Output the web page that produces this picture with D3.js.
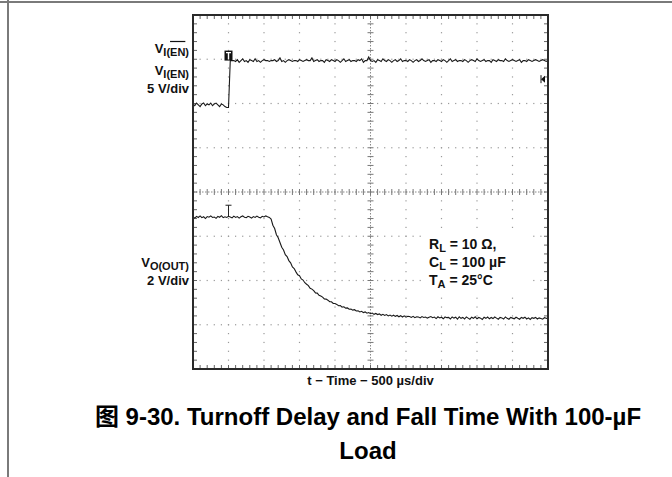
<!DOCTYPE html>
<html>
<head>
<meta charset="utf-8">
<script src="https://cdn.jsdelivr.net/npm/d3@7"></script>
<style>
  html, body { margin: 0; padding: 0; background: #fff; }
  svg { display: block; font-family: "Liberation Sans", Arial, "Noto Sans CJK SC", sans-serif; }
</style>
</head>
<body>
<svg id="chart" width="672" height="477"></svg>
<script>
// ---- Acquisition settings ----
const timeSpan = [0, 5000];        // µs across the screen (10 div × 500 µs/div)
const sampleStep = 25;             // µs between samples
const divisionsX = 10;
const divisionsY = 8;

// Channel 1: enable input, 5 V/div
const ch1VoltsPerDiv = 5;
const ch1GroundDiv = 5.97;
const ch1TriggerLevel = 2.9;
const enableVolts = [
  0.1,-0.1,0.2,0.0,-0.2,0.1,0.2,-0.1,0.1,0.0,0.2,-0.1,0.1,0.2,0.0,-0.2,0.1,0.0,-0.2,-0.3,-0.3,
  5.0,5.0,5.0,4.9,5.1,4.8,5.0,5.2,4.9,5.0,
  4.8,5.1,5.0,4.9,5.2,4.9,5.0,4.8,5.0,5.1,
  5.0,5.0,4.9,5.0,5.0,5.1,4.9,5.0,5.3,4.9,
  5.0,4.8,5.0,5.1,5.0,4.9,5.0,5.0,4.9,5.1,
  5.0,4.9,5.0,5.1,5.0,5.0,5.3,4.9,5.0,5.1,
  4.9,5.0,5.0,4.8,5.1,5.0,4.9,5.1,5.0,4.9,
  5.1,5.0,4.8,5.0,5.2,4.9,5.0,5.1,4.9,5.0,
  5.0,4.9,5.1,5.0,5.2,4.8,5.0,5.0,5.4,5.0,
  4.9,5.0,4.8,5.1,5.0,4.9,5.2,5.0,4.9,5.1,
  5.0,4.8,5.0,5.1,4.9,5.0,5.2,4.9,5.0,5.0,
  4.9,5.1,5.0,4.8,5.0,5.1,4.9,5.0,5.2,5.0,
  4.9,5.0,5.1,4.8,5.0,5.0,4.9,5.1,5.0,4.9,
  5.1,5.0,4.8,5.0,5.2,4.9,5.0,5.1,4.9,5.0,
  5.0,4.9,5.1,5.0,4.8,5.0,5.1,5.0,4.9,5.2,
  5.0,4.9,5.0,5.1,4.9,5.0,5.0,4.8,5.1,5.0,
  4.9,5.1,5.0,5.0,4.9,5.2,5.0,4.9,5.0,5.1,
  5.0,4.9,5.0,5.1,4.8,5.0,5.0,4.9,5.1,5.0,
  4.9,5.0,5.1,5.0,4.9,5.0,5.1,5.0,4.9,5.0
];

// Channel 2: output voltage, 2 V/div
const ch2VoltsPerDiv = 2;
const ch2GroundDiv = 1.15;
const outputVolts = [
  4.58,4.52,4.60,4.55,4.62,4.54,4.58,4.50,4.59,4.56,
  4.62,4.55,4.57,4.51,4.60,4.56,4.63,4.54,4.58,4.55,
  4.60,4.57,4.53,4.61,4.55,4.59,4.52,4.58,4.62,4.56,
  4.54,4.60,4.57,4.52,4.59,4.55,4.61,4.56,4.53,4.60,
  4.57,4.62,4.58,4.55,
  4.48,4.20,4.05,3.77,3.63,3.42,3.20,3.08,2.87,2.78,
  2.60,2.50,2.31,2.24,2.09,1.96,1.92,1.77,1.72,1.60,
  1.53,1.47,1.35,1.31,1.24,1.14,1.13,1.03,1.00,0.95,
  0.87,0.86,0.81,0.74,0.74,0.66,0.66,0.62,0.56,0.57,
  0.50,0.51,0.45,0.46,0.40,0.41,0.36,0.38,0.32,0.33,
  0.28,0.31,0.25,0.28,0.22,0.25,0.20,0.23,0.17,0.21,
  0.16,0.19,0.13,0.17,0.12,0.16,0.10,0.14,0.09,0.13,
  0.08,0.12,0.06,0.11,0.05,0.10,0.04,0.08,0.07,0.03,
  0.08,0.02,0.06,0.05,0.01,0.07,0.03,0.05,0.00,0.04,
  0.07,0.02,0.05,-0.02,0.06,0.01,0.04,-0.03,0.05,0.02,
  0.03,-0.04,0.05,0.00,0.04,-0.05,0.06,-0.01,0.03,-0.04,
  0.05,0.00,-0.05,0.04,-0.01,0.06,-0.03,0.03,0.00,-0.06,
  0.04,-0.01,0.05,-0.03,0.03,-0.02,0.05,0.00,-0.05,0.03,
  0.01,-0.04,0.05,-0.01,-0.05,0.03,0.00,-0.03,0.04,-0.01,
  -0.05,0.03,-0.01,0.04,-0.04,0.01,-0.06,0.02,-0.01,0.03,
  -0.04,0.01,-0.02,-0.05,0.02,-0.01,-0.04
];
const triggerTime = 500;           // µs, enable edge
const ch2MarkerVolts = 4.56;

// ---- Texts ----
const ch1Labels = [
  { main: "V", sub: "I(EN)", overline: true },
  { main: "V", sub: "I(EN)", overline: false },
  { main: "5 V/div" }
];
const ch2Labels = [
  { main: "V", sub: "O(OUT)" },
  { main: "2 V/div" }
];
const conditionLabels = [
  { main: "R", sub: "L", rest: " = 10 Ω," },
  { main: "C", sub: "L", rest: " = 100 µF" },
  { main: "T", sub: "A", rest: " = 25°C" }
];
const timeAxisLabel = "t − Time − 500 µs/div";
const captionLines = ["图 9-30. Turnoff Delay and Fall Time With 100-µF", "Load"];

// ---- Layout ----
const svg = d3.select("#chart");
const box = { left: 193, right: 548, top: 15, bottom: 369 };

const x = d3.scaleLinear().domain(timeSpan).range([box.left, box.right]);
const gridY = d3.scaleLinear().domain([0, divisionsY]).range([box.bottom, box.top]);
const gridX = d3.scaleLinear().domain([0, divisionsX]).range([box.left, box.right]);
const y1 = d3.scaleLinear()
  .domain([-ch1GroundDiv * ch1VoltsPerDiv, (divisionsY - ch1GroundDiv) * ch1VoltsPerDiv])
  .range([box.bottom, box.top]);
const y2 = d3.scaleLinear()
  .domain([-ch2GroundDiv * ch2VoltsPerDiv, (divisionsY - ch2GroundDiv) * ch2VoltsPerDiv])
  .range([box.bottom, box.top]);

// Page frame lines
svg.append("line").attr("x1", 0).attr("x2", 672).attr("y1", 2).attr("y2", 2)
  .attr("stroke", "#7a7a7a").attr("stroke-width", 2);
svg.append("line").attr("x1", 8).attr("x2", 8).attr("y1", 0).attr("y2", 477)
  .attr("stroke", "#7a7a7a").attr("stroke-width", 2);

// ---- Graticule ----
const grat = svg.append("g").attr("class", "graticule");
const minorX = d3.range(0, divisionsX + 0.001, 0.2);
const minorY = d3.range(0, divisionsY + 0.001, 0.2);
const dotColor = "#9a9a9a";

// dotted division lines
for (let i = 1; i < divisionsX; i++) {
  if (i === divisionsX / 2) continue;
  minorY.forEach(v => {
    grat.append("rect").attr("x", gridX(i) - 0.6).attr("y", gridY(v) - 0.6)
      .attr("width", 1.2).attr("height", 1.2).attr("fill", dotColor);
  });
}
for (let j = 1; j < divisionsY; j++) {
  if (j === divisionsY / 2) continue;
  minorX.forEach(v => {
    grat.append("rect").attr("x", gridX(v) - 0.6).attr("y", gridY(j) - 0.6)
      .attr("width", 1.2).attr("height", 1.2).attr("fill", dotColor);
  });
}

// centre axes with minor ticks
const cx = gridX(divisionsX / 2), cy = gridY(divisionsY / 2);
grat.append("line").attr("x1", box.left).attr("x2", box.right).attr("y1", cy).attr("y2", cy)
  .attr("stroke", "#8a8a8a").attr("stroke-width", 1).attr("stroke-dasharray", "1.5,1.5");
grat.append("line").attr("x1", cx).attr("x2", cx).attr("y1", box.top).attr("y2", box.bottom)
  .attr("stroke", "#8a8a8a").attr("stroke-width", 1).attr("stroke-dasharray", "1.5,1.5");
minorX.forEach(v => {
  grat.append("line").attr("x1", gridX(v)).attr("x2", gridX(v)).attr("y1", cy - 3).attr("y2", cy + 3)
    .attr("stroke", "#777").attr("stroke-width", 1);
});
minorY.forEach(v => {
  grat.append("line").attr("x1", cx - 3).attr("x2", cx + 3).attr("y1", gridY(v)).attr("y2", gridY(v))
    .attr("stroke", "#777").attr("stroke-width", 1);
});

// border ticks pointing inward
minorX.forEach(v => {
  grat.append("line").attr("x1", gridX(v)).attr("x2", gridX(v)).attr("y1", box.top).attr("y2", box.top + 4)
    .attr("stroke", "#666").attr("stroke-width", 1);
  grat.append("line").attr("x1", gridX(v)).attr("x2", gridX(v)).attr("y1", box.bottom - 4).attr("y2", box.bottom)
    .attr("stroke", "#666").attr("stroke-width", 1);
});
minorY.forEach(v => {
  grat.append("line").attr("x1", box.left).attr("x2", box.left + 4).attr("y1", gridY(v)).attr("y2", gridY(v))
    .attr("stroke", "#666").attr("stroke-width", 1);
  grat.append("line").attr("x1", box.right - 4).attr("x2", box.right).attr("y1", gridY(v)).attr("y2", gridY(v))
    .attr("stroke", "#666").attr("stroke-width", 1);
});

// Condition note background hides the graticule underneath
svg.append("rect").attr("x", 422).attr("y", 232).attr("width", 110).attr("height", 60).attr("fill", "#fff");

// ---- Traces ----
const tOf = (d, i) => x(i * sampleStep);
svg.append("path").datum(enableVolts)
  .attr("d", d3.line().x(tOf).y(d => y1(d)))
  .attr("fill", "none").attr("stroke", "#1a1a1a").attr("stroke-width", 1.1);
svg.append("path").datum(outputVolts)
  .attr("d", d3.line().x(tOf).y(d => y2(d)))
  .attr("fill", "none").attr("stroke", "#1a1a1a").attr("stroke-width", 1.1);

// Trigger position marker on channel 1
const tx = x(triggerTime);
const ty = y1(ch1VoltsPerDiv);
svg.append("rect").attr("x", tx - 4).attr("y", ty - 10).attr("width", 8).attr("height", 10).attr("fill", "#111");
svg.append("path").attr("d", `M${tx - 2.5},${ty - 8}H${tx + 2.5}M${tx},${ty - 8}V${ty - 1}`)
  .attr("stroke", "#fff").attr("stroke-width", 1.4).attr("fill", "none");

// Trigger position marker on channel 2
const my = y2(ch2MarkerVolts);
svg.append("path").attr("d", `M${tx - 3},${my - 12}H${tx + 3}M${tx},${my - 12}V${my - 1}`)
  .attr("stroke", "#222").attr("stroke-width", 1).attr("fill", "none");

// Trigger level arrow at the right edge
const ly = y1(ch1TriggerLevel);
svg.append("path")
  .attr("d", `M${box.right - 7},${ly}L${box.right - 3},${ly - 3.5}L${box.right - 3},${ly + 3.5}Z`)
  .attr("fill", "#111");
svg.append("line").attr("x1", box.right - 7).attr("x2", box.right - 7).attr("y1", ly - 4).attr("y2", ly + 4)
  .attr("stroke", "#111").attr("stroke-width", 1);

// Plot frame
svg.append("rect").attr("x", box.left).attr("y", box.top)
  .attr("width", box.right - box.left).attr("height", box.bottom - box.top)
  .attr("fill", "none").attr("stroke", "#2a2a2a").attr("stroke-width", 2);

// ---- Labels ----
function label(g, item, xPos, yPos, anchor, size, subSize) {
  const t = g.append("text").attr("x", xPos).attr("y", yPos)
    .attr("text-anchor", anchor).attr("font-size", size).attr("font-weight", "bold").attr("fill", "#111");
  t.append("tspan").text(item.main);
  if (item.sub) {
    t.append("tspan").attr("font-size", subSize).attr("dy", 3).text(item.sub);
    if (item.rest) t.append("tspan").attr("font-size", size).attr("dy", -3).text(item.rest);
  }
  return t;
}

const lab = svg.append("g");
const ch1Baselines = [53, 75, 93];
ch1Labels.forEach((d, i) => {
  const t = label(lab, d, 189, ch1Baselines[i], "end", 13, 11);
  if (d.overline) {
    const n = t.node();
    const s = n.getStartPositionOfChar(3).x;
    const e = n.getEndPositionOfChar(4).x;
    lab.append("line").attr("x1", s).attr("x2", e)
      .attr("y1", ch1Baselines[i] - 11.5).attr("y2", ch1Baselines[i] - 11.5)
      .attr("stroke", "#111").attr("stroke-width", 1.2);
  }
});
const ch2Baselines = [267, 285];
ch2Labels.forEach((d, i) => label(lab, d, 189, ch2Baselines[i], "end", 13, 11));

const condBaselines = [249, 267, 285];
conditionLabels.forEach((d, i) => label(lab, d, 429, condBaselines[i], "start", 14, 11));

svg.append("text").attr("x", x(2500)).attr("y", 385).attr("text-anchor", "middle")
  .attr("font-size", 13).attr("font-weight", "bold").attr("fill", "#111").text(timeAxisLabel);

captionLines.forEach((s, i) => {
  svg.append("text").attr("x", 368).attr("y", 425 + i * 34).attr("text-anchor", "middle")
    .attr("font-size", 24).attr("font-weight", "bold").attr("fill", "#000").text(s);
});
</script>
</body>
</html>
